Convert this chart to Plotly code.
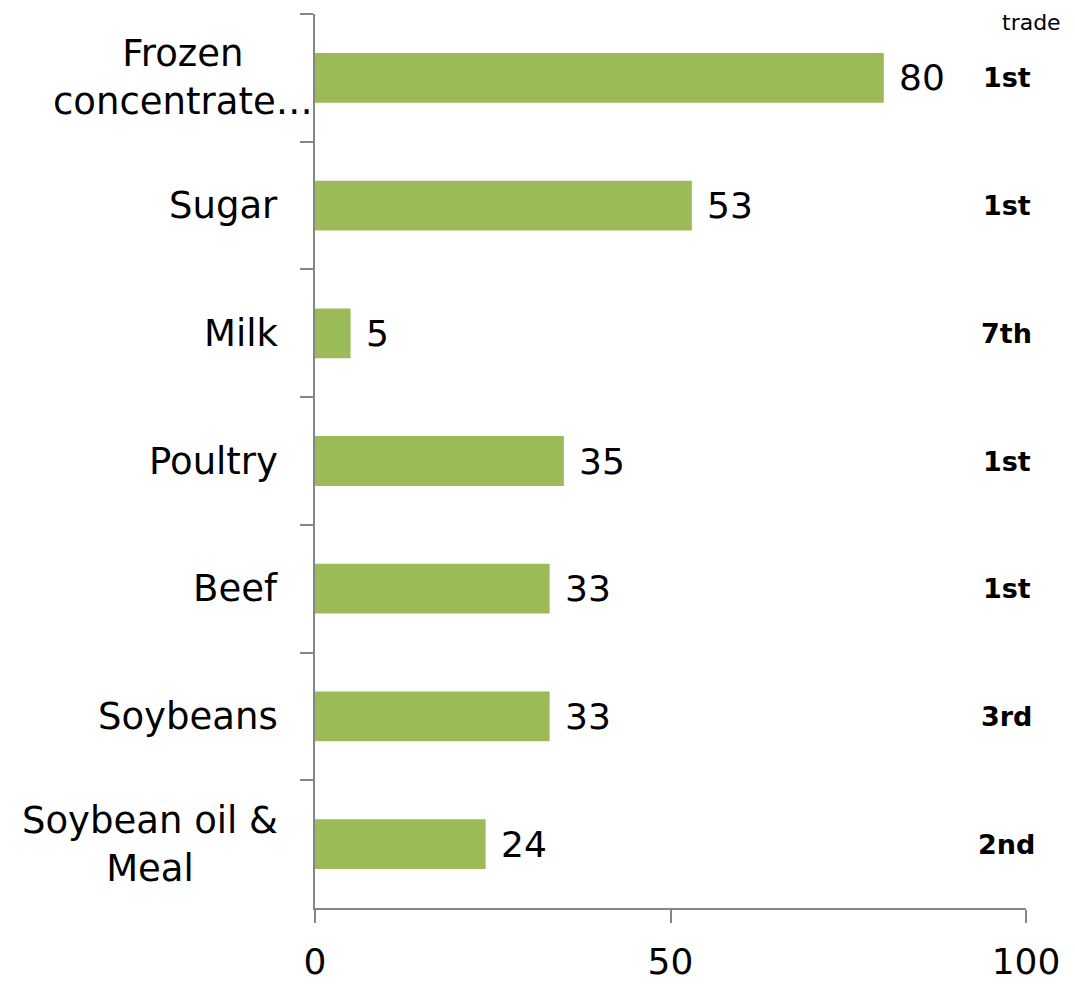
import plotly.graph_objects as go

categories = ["Frozen<br>concentrate…", "Sugar", "Milk", "Poultry", "Beef", "Soybeans", "Soybean oil &<br>Meal"]
values = [80, 53, 5, 35, 33, 33, 24]
ranks = ["1st", "1st", "7th", "1st", "1st", "3rd", "2nd"]
x_ticks = [0, 50, 100]

BAR = "#9BBB59"
AXIS = "#868686"
FONT = "DejaVu Sans, Verdana, sans-serif"

fig = go.Figure()
fig.add_trace(go.Bar(
    x=values, y=categories, orientation="h",
    marker=dict(color=BAR, line=dict(width=0)),
    width=0.39, hoverinfo="skip",
))

ann = []
for c, v, r in zip(categories, values, ranks):
    ann.append(dict(x=v, y=c, xref="x", yref="y", text=str(v), showarrow=False,
                    xanchor="left", xshift=13, font=dict(size=36, color="#000000", family=FONT)))
    ann.append(dict(x=97.3, y=c, xref="x", yref="y", text="<b>" + r + "</b>", showarrow=False,
                    xanchor="center", font=dict(size=27, color="#000000", family=FONT)))
    if c.startswith("Frozen"):
        ann.append(dict(x=0, y=c, xref="paper", yref="y", text=c, showarrow=False,
                        xanchor="center", xshift=-132, align="center",
                        font=dict(size=37, color="#000000", family=FONT)))
    else:
        ann.append(dict(x=0, y=c, xref="paper", yref="y", text=c, showarrow=False,
                        xanchor="right", xshift=-35, align="center",
                        font=dict(size=37, color="#000000", family=FONT)))

ann.append(dict(x=0, y=1, xref="paper", yref="paper", text="trade", showarrow=False,
                xanchor="left", yanchor="top", xshift=685, yshift=6,
                font=dict(size=22, color="#000000", family=FONT)))

fig.update_layout(
    width=1075, height=984,
    margin=dict(l=307, r=57, t=6, b=84),
    paper_bgcolor="white", plot_bgcolor="white",
    showlegend=False,
    annotations=ann,
    xaxis=dict(range=[0, 100], tickvals=x_ticks, ticktext=[str(t) for t in x_ticks],
               automargin=False,
               showgrid=False, zeroline=False, showline=True, linecolor=AXIS, linewidth=2,
               ticks="outside", ticklen=13, tickwidth=2, tickcolor=AXIS,
               ticklabelstandoff=8,
               tickfont=dict(size=36, color="#000000", family=FONT)),
    yaxis=dict(categoryorder="array", categoryarray=categories, autorange="reversed",
               automargin=False,
               showgrid=False, zeroline=False, showline=True, linecolor=AXIS, linewidth=2,
               ticks="outside", ticklen=13, tickwidth=2, tickcolor=AXIS,
               tickson="boundaries", showticklabels=False),
)

fig.write_html("out.html")
